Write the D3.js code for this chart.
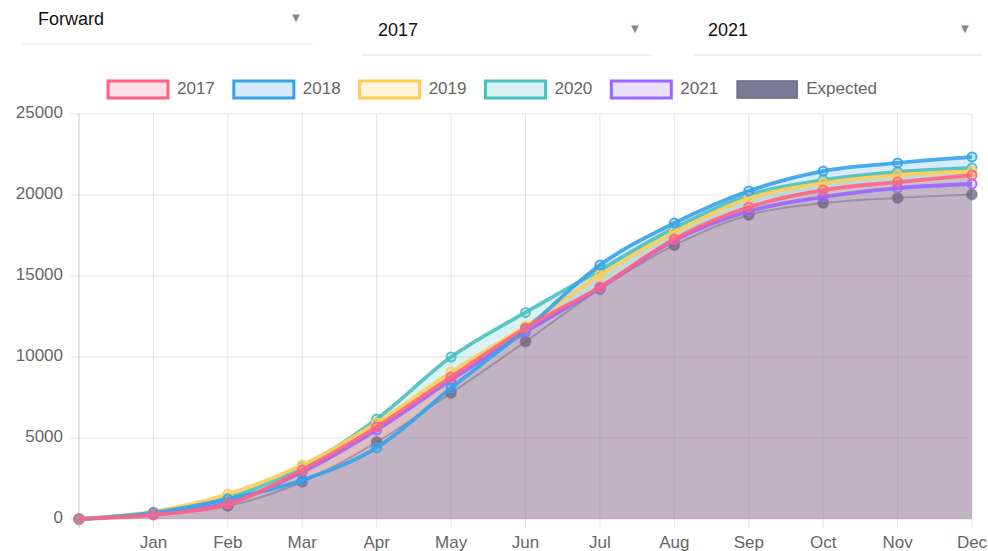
<!DOCTYPE html>
<html lang="en">
  <head>
    <meta charset="utf-8">
    <title>Cumulative by month</title>
    <script src="https://d3js.org/d3.v7.min.js"></script>
    <style>
    body {margin: 0; background: #fff;}
    svg {font-family: "Liberation Sans", Arial, sans-serif;}
    </style>
  </head>
<body>
  <div id="my_dataviz"></div>
  <script>

  // month labels (first point is the start, no label)
  var months = ["", "Jan", "Feb", "Mar", "Apr", "May", "Jun", "Jul", "Aug", "Sep", "Oct", "Nov", "Dec"];
  var yTicks = [0, 5000, 10000, 15000, 20000, 25000];

  // series values
  var s2017 = [0, 250, 920, 3020, 5680, 8770, 11790, 14320, 17280, 19250, 20300, 20800, 21230];
  var s2018 = [0, 400, 1230, 2400, 4400, 8090, 11700, 15680, 18270, 20250, 21480, 21980, 22350];
  var s2019 = [0, 450, 1540, 3330, 5930, 9070, 11900, 15060, 17700, 19800, 20740, 21230, 21450];
  var s2020 = [0, 400, 1300, 3200, 6170, 10000, 12750, 15370, 17960, 20000, 20920, 21420, 21670];
  var s2021 = [0, 350, 1000, 2900, 5500, 8580, 11540, 14260, 17200, 19000, 19880, 20430, 20680];
  var expected = [0, 300, 800, 2300, 4750, 7780, 10950, 14200, 16900, 18770, 19500, 19820, 20030];

  // dropdown labels
  var dropdowns = ["Forward", "2017", "2021"];

  var series = [
    {name: "2017", values: s2017, rgb: [255, 99, 132]},
    {name: "2018", values: s2018, rgb: [54, 162, 235]},
    {name: "2019", values: s2019, rgb: [255, 205, 86]},
    {name: "2020", values: s2020, rgb: [75, 192, 192]},
    {name: "2021", values: s2021, rgb: [153, 102, 255]},
    {name: "Expected", values: expected, rgb: [110, 100, 125]}
  ];

  function rgba(c, a) { return "rgba(" + c[0] + "," + c[1] + "," + c[2] + "," + a + ")"; }
  function rgb(c) { return "rgb(" + c[0] + "," + c[1] + "," + c[2] + ")"; }

  var W = 988, H = 551;
  var svg = d3.select("#my_dataviz")
    .append("svg")
      .attr("width", W)
      .attr("height", H);

  // ---- dropdown look-alikes ----
  var dd = [
    {x: 22, w: 291, tx: 38, ty: 20, ly: 44},
    {x: 362, w: 290, tx: 378, ty: 31, ly: 55},
    {x: 693, w: 289, tx: 708, ty: 31, ly: 55}
  ];
  dd.forEach(function(d, i) {
    svg.append("text")
      .attr("x", d.tx).attr("y", d.ty)
      .attr("dominant-baseline", "middle")
      .style("font-size", "18px").style("fill", "#111")
      .text(dropdowns[i]);
    svg.append("text")
      .attr("x", d.x + d.w - 17).attr("y", d.ty - 1)
      .attr("text-anchor", "middle").attr("dominant-baseline", "middle")
      .style("font-size", "13px").style("fill", "#8a8a8a")
      .text("\u25BC");
    svg.append("line")
      .attr("x1", d.x).attr("x2", d.x + d.w)
      .attr("y1", d.ly).attr("y2", d.ly)
      .style("stroke", "#e4e4e4").style("stroke-width", 1.2);
  });

  // ---- scales ----
  var x = d3.scaleLinear().domain([0, months.length - 1]).range([79, 972]);
  var y = d3.scaleLinear().domain([0, 25000]).range([519, 114]);

  // grid
  var grid = svg.append("g");
  months.forEach(function(m, i) {
    grid.append("line")
      .attr("x1", x(i)).attr("x2", x(i))
      .attr("y1", y(25000)).attr("y2", y(0) + 9)
      .style("stroke", i === 0 ? "rgba(0,0,0,0.22)" : "rgba(0,0,0,0.1)");
  });
  yTicks.forEach(function(t) {
    grid.append("line")
      .attr("x1", x(0) - 9).attr("x2", x(12))
      .attr("y1", y(t)).attr("y2", y(t))
      .style("stroke", "rgba(0,0,0,0.1)");
  });

  // axis labels
  svg.append("g").selectAll("text")
    .data(yTicks).enter().append("text")
      .attr("x", 63).attr("y", function(d) { return y(d); })
      .attr("text-anchor", "end").attr("dominant-baseline", "middle")
      .style("font-size", "17px").style("fill", "#666")
      .text(function(d) { return d; });

  svg.append("g").selectAll("text")
    .data(months).enter().append("text")
      .attr("x", function(d, i) { return x(i); }).attr("y", 548)
      .attr("text-anchor", "middle")
      .style("font-size", "17px").style("fill", "#666")
      .text(function(d) { return d; });

  // ---- series ----
  var line = d3.line()
    .x(function(d, i) { return x(i); })
    .y(function(d) { return y(d); })
    .curve(d3.curveMonotoneX);
  var area = d3.area()
    .x(function(d, i) { return x(i); })
    .y0(y(0))
    .y1(function(d) { return y(d); })
    .curve(d3.curveMonotoneX);

  // first dataset ends up on top
  var drawOrder = series.slice().reverse();

  // fills first
  drawOrder.forEach(function(s) {
    svg.append("path")
      .datum(s.values)
      .attr("d", area)
      .style("fill", s.name === "Expected" ? "rgba(130,60,160,0.06)" : rgba(s.rgb, 0.2));
  });

  // lines and points
  drawOrder.forEach(function(s) {
    var isExp = s.name === "Expected";
    svg.append("path")
      .datum(s.values)
      .attr("d", line)
      .style("fill", "none")
      .style("stroke", isExp ? rgba(s.rgb, 0.45) : rgba(s.rgb, 0.9))
      .style("stroke-width", isExp ? 2 : 3.8);
    svg.append("g").selectAll("circle")
      .data(s.values).enter().append("circle")
        .attr("cx", function(d, i) { return x(i); })
        .attr("cy", function(d) { return y(d); })
        .attr("r", isExp ? 5 : 4.5)
        .style("fill", isExp ? rgba(s.rgb, 0.75) : rgba(s.rgb, 0.25))
        .style("stroke", isExp ? rgba(s.rgb, 0.5) : rgba(s.rgb, 0.9))
        .style("stroke-width", 2);
  });

  // ---- legend ----
  var legend = svg.append("g");
  var lx = 108;
  series.forEach(function(s) {
    var isExp = s.name === "Expected";
    legend.append("rect")
      .attr("x", lx).attr("y", 81)
      .attr("width", 60).attr("height", 17)
      .style("fill", isExp ? "rgb(122,122,152)" : rgba(s.rgb, 0.2))
      .style("stroke", isExp ? "rgb(105,105,135)" : rgb(s.rgb))
      .style("stroke-width", isExp ? 1.5 : 3);
    var t = legend.append("text")
      .attr("x", lx + 69).attr("y", 89.5)
      .attr("dominant-baseline", "middle")
      .style("font-size", "17px").style("fill", "#666")
      .text(s.name);
    lx += 69 + t.node().getComputedTextLength() + 19;
  });

  </script>
</body>
</html>
